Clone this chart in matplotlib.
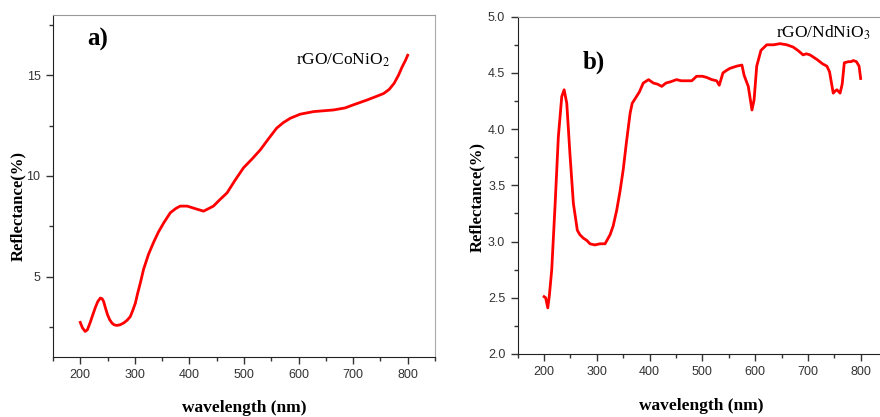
import matplotlib
matplotlib.use('Agg')
import matplotlib.pyplot as plt
from matplotlib.ticker import MultipleLocator

plt.rcParams['mathtext.fontset'] = 'stix'

# panel a: rGO/CoNiO2
wl_a = [200, 204, 209, 213, 218, 223, 227.5, 232, 236.7, 240, 242.8, 246, 250, 254, 258, 262, 267,
        273, 279.5, 286, 291.7, 296, 301, 305, 310, 316, 325,
        334, 343, 353, 365, 375, 383, 396, 410, 426, 444, 455, 469, 484, 499, 515, 530,
        545, 560, 572, 585, 603, 628, 664, 685, 700, 726, 745, 756, 766, 775, 783, 790, 796, 800]
refl_a = [2.72, 2.45, 2.27, 2.35, 2.7, 3.1, 3.45, 3.75, 3.93, 3.9, 3.76, 3.45, 3.1, 2.85, 2.69, 2.6, 2.57,
          2.6, 2.69, 2.83, 3.01, 3.3, 3.68, 4.15, 4.67, 5.36, 6.1,
          6.68, 7.2, 7.67, 8.17, 8.38, 8.5, 8.5, 8.38, 8.25, 8.5, 8.8, 9.16, 9.8, 10.4, 10.85, 11.3,
          11.85, 12.38, 12.65, 12.87, 13.07, 13.2, 13.28, 13.38, 13.53, 13.78, 13.98, 14.1, 14.3, 14.6,
          15.0, 15.43, 15.75, 16.0]

# panel b: rGO/NdNiO3
wl_b = [200, 203, 207, 210, 214.5, 221, 227, 233.5, 238, 243, 249, 255.5, 263, 268, 274.5, 281, 287,
        296, 306, 315.5, 325, 331, 337.7, 344, 350, 356, 363, 367, 372.5, 380.5, 388, 398, 407, 415,
        423, 431, 439, 451, 460, 470, 480, 489, 500, 508, 518, 527, 532, 539, 545, 552, 565, 575, 579,
        587, 594, 598, 603, 611, 622, 635, 647, 660, 672, 681, 691, 697, 704, 717, 728, 736, 741, 748,
        752, 755, 761, 765, 769, 777, 782, 786, 792, 797, 800]
refl_b = [2.51, 2.5, 2.41, 2.52, 2.75, 3.34, 3.93, 4.29, 4.35, 4.23, 3.78, 3.34, 3.1, 3.06, 3.03,
          3.01, 2.98, 2.97, 2.98, 2.98, 3.06, 3.14, 3.28, 3.45, 3.64, 3.88, 4.14, 4.23, 4.27, 4.33,
          4.41, 4.44, 4.41, 4.4, 4.38, 4.41, 4.42, 4.44, 4.43, 4.43, 4.43, 4.47, 4.47, 4.46, 4.44,
          4.43, 4.39, 4.5, 4.52, 4.54, 4.56, 4.57, 4.48, 4.38, 4.17, 4.26, 4.56, 4.7, 4.75, 4.75,
          4.76, 4.75, 4.73, 4.7, 4.66, 4.67, 4.66, 4.62, 4.58, 4.56, 4.51, 4.32, 4.34, 4.35, 4.32,
          4.4, 4.59, 4.6, 4.6, 4.61, 4.6, 4.56, 4.45]

xticks = [200, 300, 400, 500, 600, 700, 800]

fig = plt.figure(figsize=(8.8, 4.17), dpi=100)
ax1 = fig.add_axes([0.0602, 0.1439, 0.4341, 0.8201])
ax2 = fig.add_axes([0.5883, 0.1511, 0.4197, 0.8089])

serif = 'Liberation Serif'

for ax in (ax1, ax2):
    ax.set_xlim(150, 850)
    ax.set_xticks(xticks)
    ax.xaxis.set_minor_locator(MultipleLocator(50))
    ax.tick_params(which='major', direction='out', length=5, width=1, color='#333333',
                   labelcolor='#333333', pad=4)
    ax.tick_params(which='minor', direction='out', length=3, width=1, color='#333333')
    ax.spines['left'].set_color('#222222')
    ax.spines['bottom'].set_color('#222222')
    ax.spines['top'].set_color('#999999')
    ax.spines['right'].set_color('#aaaaaa')

ax1.plot(wl_a, refl_a, color='#ff0000', lw=2)
ax1.set_ylim(1, 18)
ax1.set_yticks([5, 10, 15])
ax1.yaxis.set_minor_locator(MultipleLocator(2.5))

ax2.plot(wl_b, refl_b, color='#ff0000', lw=2)
ax2.set_ylim(2.0, 5.0)
ax2.set_yticks([2.0, 2.5, 3.0, 3.5, 4.0, 4.5, 5.0])
ax2.set_yticklabels(['2.0', '2.5', '3.0', '3.5', '4.0', '4.5', '5.0'])
ax2.yaxis.set_minor_locator(MultipleLocator(0.25))
ax2.spines['right'].set_visible(False)

for ax in (ax1, ax2):
    for lab in ax.get_xticklabels() + ax.get_yticklabels():
        lab.set_fontfamily('Liberation Sans')
        lab.set_fontsize(9)

# labels
fig.text(0.0205, 0.506, 'Reflectance(%)', rotation=90, ha='center', va='center',
         family=serif, weight='bold', fontsize=12)
fig.text(0.542, 0.527, 'Reflectance(%)', rotation=90, ha='center', va='center',
         family=serif, weight='bold', fontsize=12)
fig.text(0.277, 0.022, 'wavelength (nm)', ha='center', va='center',
         family=serif, weight='bold', fontsize=12.5)
fig.text(0.797, 0.027, 'wavelength (nm)', ha='center', va='center',
         family=serif, weight='bold', fontsize=12.5)

fig.text(0.111, 0.905, 'a)', ha='center', va='center', family=serif, weight='bold', fontsize=18)
fig.text(0.675, 0.85, 'b)', ha='center', va='center', family=serif, weight='bold', fontsize=18)

fig.text(0.390, 0.855, r'rGO/CoNiO$_2$', ha='center', va='center', family=serif, fontsize=12.5)
fig.text(0.935, 0.922, r'rGO/NdNiO$_3$', ha='center', va='center', family=serif, fontsize=12.5)

fig.savefig('out.png', dpi=100)
